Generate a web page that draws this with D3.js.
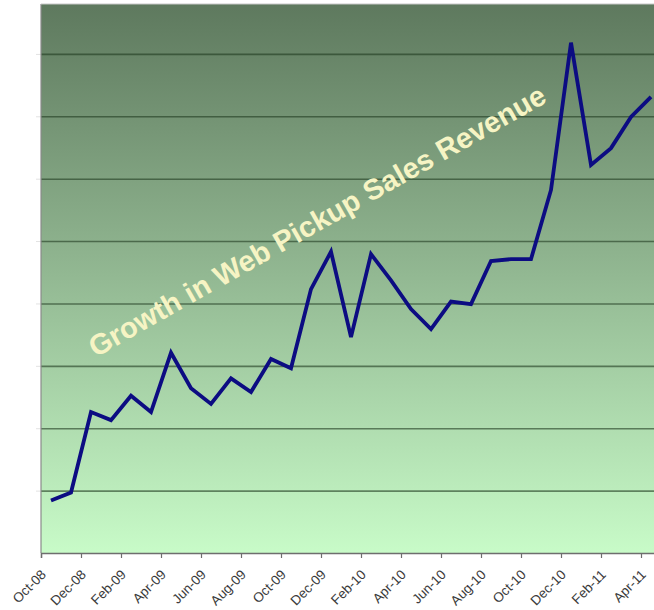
<!DOCTYPE html>
<html>
<head>
<meta charset="utf-8">
<script src="https://cdn.jsdelivr.net/npm/d3@7"></script>
<style>
  html, body { margin: 0; padding: 0; background: #ffffff; }
  svg { display: block; }
  .x-axis text { font-family: "Liberation Sans", Arial, sans-serif; font-size: 13.5px; fill: #3a3a3a; }
</style>
</head>
<body>
<svg id="chart" width="654" height="610"></svg>
<script>
// Monthly categories, October 2008 through April 2011
const months = [
  "Oct-08", "Nov-08", "Dec-08", "Jan-09", "Feb-09", "Mar-09", "Apr-09", "May-09",
  "Jun-09", "Jul-09", "Aug-09", "Sep-09", "Oct-09", "Nov-09", "Dec-09", "Jan-10",
  "Feb-10", "Mar-10", "Apr-10", "May-10", "Jun-10", "Jul-10", "Aug-10", "Sep-10",
  "Oct-10", "Nov-10", "Dec-10", "Jan-11", "Feb-11", "Mar-11", "Apr-11"
];

// Web pickup sales revenue (index units)
const revenue = [
  84, 97, 226, 213, 252, 226, 321, 264,
  239, 280, 258, 311, 296, 423, 483, 346,
  479, 437, 391, 359, 403, 399, 468, 471,
  471, 582, 818, 622, 649, 699, 731
];

// Labelled ticks every second month
const tickLabels = months.filter((m, i) => i % 2 === 0);

// Horizontal gridline values
const gridValues = [100, 200, 300, 400, 500, 600, 700, 800];

const titleText = "Growth in Web Pickup Sales Revenue";

const svg = d3.select("#chart");
const plot = { left: 41, right: 661, top: 4, bottom: 553 };

const x = d3.scaleLinear().domain([0, months.length]).range([plot.left, plot.right]);
const y = d3.scaleLinear().domain([0, 880]).range([plot.bottom, plot.top]);

// Background gradient of the plot area
const defs = svg.append("defs");
const grad = defs.append("linearGradient")
  .attr("id", "bg").attr("x1", 0).attr("y1", 0).attr("x2", 0).attr("y2", 1);
grad.append("stop").attr("offset", "0%").attr("stop-color", "#5e795e");
grad.append("stop").attr("offset", "50%").attr("stop-color", "#93b993");
grad.append("stop").attr("offset", "100%").attr("stop-color", "#c8fbc8");

svg.append("rect")
  .attr("x", plot.left).attr("y", plot.top)
  .attr("width", plot.right - plot.left).attr("height", plot.bottom - plot.top)
  .attr("fill", "url(#bg)");

// Gridlines
const grid = svg.append("g")
  .attr("transform", `translate(${plot.left},0)`)
  .call(d3.axisLeft(y).tickValues(gridValues).tickSize(-(plot.right - plot.left)).tickFormat(""));
grid.select(".domain").remove();
grid.selectAll(".tick line")
  .attr("stroke", "#1f3a1f").attr("stroke-opacity", 0.6).attr("stroke-width", 1.6);

// Faint outer ticks on the value axis
const yTicks = svg.append("g")
  .attr("transform", `translate(${plot.left},0)`)
  .call(d3.axisLeft(y).tickValues(gridValues).tickSize(5).tickFormat(""));
yTicks.select(".domain").remove();
yTicks.selectAll(".tick line").attr("stroke", "#e2e2e2");

// Plot border (left and top)
svg.append("line")
  .attr("x1", plot.left).attr("x2", plot.left)
  .attr("y1", plot.top).attr("y2", plot.bottom)
  .attr("stroke", "#8a8a8a").attr("stroke-width", 1.2);
svg.append("line")
  .attr("x1", plot.left).attr("x2", plot.right)
  .attr("y1", plot.top).attr("y2", plot.top)
  .attr("stroke", "#c8c8c8").attr("stroke-width", 1);

// Category axis
const xAxis = svg.append("g")
  .attr("class", "x-axis")
  .attr("transform", `translate(0,${plot.bottom})`)
  .call(d3.axisBottom(x)
    .tickValues(d3.range(0, months.length, 2))
    .tickSize(5)
    .tickFormat(i => tickLabels[i / 2]));
xAxis.select(".domain").attr("stroke", "#6e6e6e").attr("stroke-width", 1.4);
xAxis.selectAll(".tick line").attr("stroke", "#6e6e6e").attr("stroke-width", 1.2);
xAxis.selectAll(".tick text")
  .attr("text-anchor", "end")
  .attr("x", 0).attr("y", 0).attr("dy", "0.35em")
  .attr("transform", "translate(2,19) rotate(-45)");

// Revenue line
const line = d3.line()
  .x((d, i) => x(i + 0.5))
  .y(d => y(d));

svg.append("path")
  .datum(revenue)
  .attr("fill", "none")
  .attr("stroke", "#0c0c82")
  .attr("stroke-width", 3.8)
  .attr("stroke-linejoin", "miter")
  .attr("d", line);

// Diagonal headline across the plot
svg.append("text")
  .attr("transform", "translate(317,221) rotate(-29.5)")
  .attr("text-anchor", "middle")
  .attr("dominant-baseline", "central")
  .attr("font-family", "'Liberation Sans', Arial, sans-serif")
  .attr("font-weight", "bold")
  .attr("font-size", 29)
  .attr("fill", "#f6f4c4")
  .text(titleText);
</script>
</body>
</html>
